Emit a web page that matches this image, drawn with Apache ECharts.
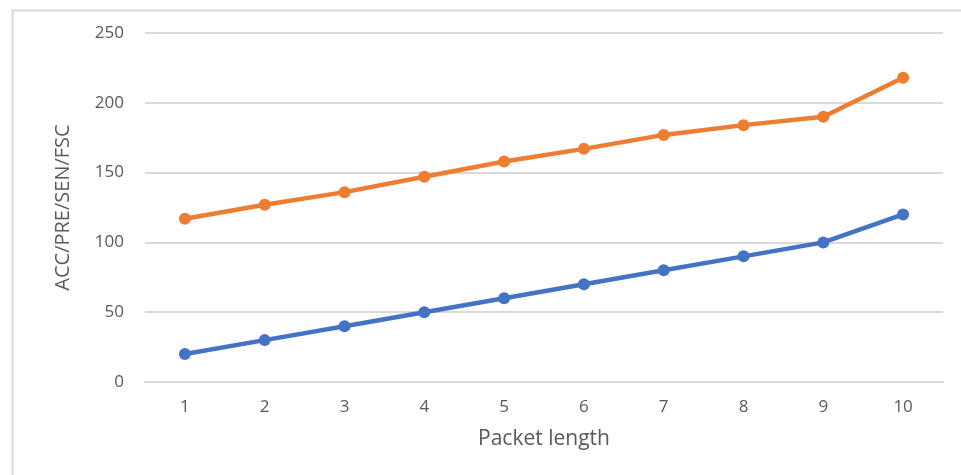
<!DOCTYPE html>
<html>
<head>
<meta charset="utf-8">
<script src="https://cdn.jsdelivr.net/npm/echarts@6/dist/echarts.min.js"></script>
<style>
  html, body { margin: 0; padding: 0; background: #fff; }
  #chart { width: 961px; height: 475px; }
</style>
</head>
<body>
<div id="chart"></div>
<script>
const categories = ['1', '2', '3', '4', '5', '6', '7', '8', '9', '10']
const blueValues = [20, 30, 40, 50, 60, 70, 80, 90, 100, 120]
const orangeValues = [117, 127, 136, 147, 158, 167, 177, 184, 190, 218]

const chart = echarts.init(document.getElementById('chart'))

const labelFont = { color: '#595959', fontSize: 17, fontFamily: 'Open Sans' }

chart.setOption({
  animation: false,
  backgroundColor: '#fff',
  graphic: [
    // frame lines (top and left)
    { type: 'line', shape: { x1: 12, y1: 10.5, x2: 961, y2: 10.5 }, style: { stroke: '#d9d9d9', lineWidth: 2 } },
    { type: 'line', shape: { x1: 12.5, y1: 10, x2: 12.5, y2: 475 }, style: { stroke: '#d9d9d9', lineWidth: 2 } },
  ],
  grid: { left: 145, right: 18, top: 33, bottom: 93 },
  xAxis: {
    type: 'category',
    data: categories,
    boundaryGap: true,
    name: 'Packet length',
    nameLocation: 'middle',
    nameGap: 47,
    nameTextStyle: { color: '#595959', fontSize: 21, fontFamily: 'Open Sans' },
    axisLine: { lineStyle: { color: '#d9d9d9', width: 2 } },
    axisTick: { show: false },
    axisLabel: { ...labelFont, margin: 17 },
  },
  yAxis: {
    type: 'value',
    min: 0,
    max: 250,
    interval: 50,
    name: 'ACC/PRE/SEN/FSC',
    nameLocation: 'middle',
    nameGap: 72,
    nameTextStyle: { color: '#595959', fontSize: 20, fontFamily: 'Open Sans' },
    axisLine: { show: false },
    axisTick: { show: false },
    axisLabel: { ...labelFont, margin: 21 },
    splitLine: { lineStyle: { color: '#d9d9d9', width: 2 } },
  },
  series: [
    {
      name: 'blue',
      type: 'line',
      data: blueValues,
      color: '#4472C4',
      symbol: 'circle',
      symbolSize: 12,
      lineStyle: { width: 4.5 },
    },
    {
      name: 'orange',
      type: 'line',
      data: orangeValues,
      color: '#ED7D31',
      symbol: 'circle',
      symbolSize: 12,
      lineStyle: { width: 4.5 },
    },
  ],
})
</script>
</body>
</html>
